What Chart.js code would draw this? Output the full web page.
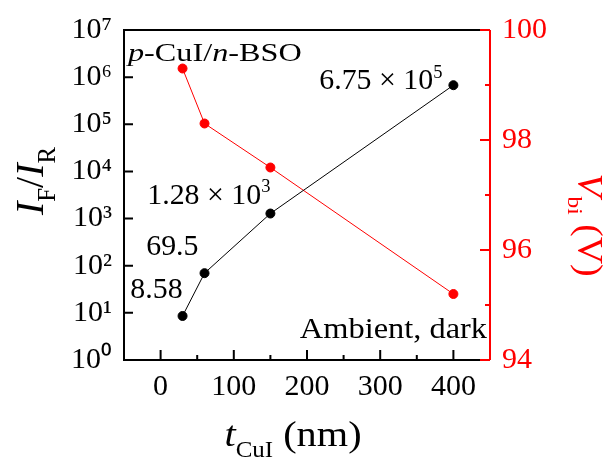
<!DOCTYPE html>
<html>
<head>
<meta charset="utf-8">
<script src="https://cdn.jsdelivr.net/npm/chart.js@4.4.1/dist/chart.umd.min.js"></script>
<style>
  html, body { margin: 0; padding: 0; background: #fff; }
</style>
</head>
<body>
<canvas id="chart" width="606" height="462"></canvas>
<script>
/* data */
const thickness = [30, 60, 150, 400];           // t_CuI (nm)
const ratio = [8.58, 69.5, 1280, 675000];       // I_F / I_R
const vbi = [99.3, 98.3, 97.5, 95.2];           // V_bi (V)
const ratioText = [['8.58', ''], ['69.5', ''], ['1.28 × 10', '3'], ['6.75 × 10', '5']];

const xTicks = [0, 100, 200, 300, 400];
const xMinor = [50, 150, 250, 350];
const yTicks = [1, 10, 100, 1e3, 1e4, 1e5, 1e6, 1e7];
const y2Ticks = [94, 96, 98, 100];
const y2Minor = [95, 97, 99];

const FONT = '"Liberation Serif", "Times New Roman", serif';
const RED = '#ff0000';
const SUP = '⁰¹²³⁴⁵⁶⁷⁸⁹';

function sup(n) {
  return String(n).split('').map(d => SUP[+d]).join('');
}

// draw a run of mixed italic / sub / sup text
function rich(ctx, runs, x, y, o) {
  const size = o.size, sx = o.sx || 1;
  ctx.save();
  ctx.translate(x, y);
  ctx.rotate(o.rot || 0);
  ctx.scale(sx, 1);
  ctx.fillStyle = o.color || '#000';
  ctx.textBaseline = 'alphabetic';
  ctx.textAlign = 'left';
  const parts = runs.map(r => {
    const sz = (r.sub || r.sup) ? size * 0.62 : size;
    const f = (r.it ? 'italic ' : '') + sz + 'px ' + FONT;
    ctx.font = f;
    return { r, f, w: ctx.measureText(r.t).width };
  });
  const total = parts.reduce((a, p) => a + p.w, 0);
  let cx = o.align === 'right' ? -total : o.align === 'center' ? -total / 2 : 0;
  parts.forEach(p => {
    ctx.font = p.f;
    const dy = p.r.sub ? size * 0.3 : p.r.sup ? -size * 0.4 : 0;
    ctx.fillText(p.r.t, cx, dy);
    cx += p.w;
  });
  ctx.restore();
}

const frame = {
  id: 'frame',
  beforeDatasetsDraw(chart) {
    const ctx = chart.ctx, a = chart.chartArea, s = chart.scales;
    ctx.save();
    ctx.lineWidth = 2;
    ctx.strokeStyle = '#000';
    ctx.beginPath();
    ctx.moveTo(a.right, a.top); ctx.lineTo(a.left, a.top);
    ctx.lineTo(a.left, a.bottom); ctx.lineTo(a.right, a.bottom);
    ctx.stroke();
    // inward ticks
    ctx.beginPath();
    xTicks.forEach(v => { const p = s.x.getPixelForValue(v); ctx.moveTo(p, a.bottom); ctx.lineTo(p, a.bottom - 10); });
    xMinor.forEach(v => { const p = s.x.getPixelForValue(v); ctx.moveTo(p, a.bottom); ctx.lineTo(p, a.bottom - 5); });
    yTicks.forEach(v => { const p = s.y.getPixelForValue(v); ctx.moveTo(a.left, p); ctx.lineTo(a.left + 9, p); });
    ctx.stroke();
    // right axis
    ctx.strokeStyle = RED;
    ctx.beginPath();
    ctx.moveTo(a.right, a.top); ctx.lineTo(a.right, a.bottom);
    y2Ticks.forEach(v => { const p = s.y2.getPixelForValue(v); ctx.moveTo(a.right, p); ctx.lineTo(a.right - 10, p); });
    y2Minor.forEach(v => { const p = s.y2.getPixelForValue(v); ctx.moveTo(a.right, p); ctx.lineTo(a.right - 5, p); });
    ctx.stroke();
    ctx.restore();
  },
  afterDraw(chart) {
    const ctx = chart.ctx, a = chart.chartArea, s = chart.scales;
    // axis titles
    rich(ctx, [{ t: 'I', it: true }, { t: 'F', sub: true }, { t: '/' }, { t: 'I', it: true }, { t: 'R', sub: true }],
      43, (a.top + a.bottom) / 2 - 14, { size: 40, rot: -Math.PI / 2, align: 'center' });
    rich(ctx, [{ t: 't', it: true }, { t: 'CuI', sub: true }, { t: ' (nm)' }],
      (a.left + a.right) / 2 - 14, 446, { size: 36, sx: 1.12, align: 'center' });
    rich(ctx, [{ t: 'V', it: true }, { t: 'bi', sub: true }, { t: ' (V)' }],
      578, (a.top + a.bottom) / 2 + 30, { size: 35, sx: 1.08, rot: Math.PI / 2, align: 'center', color: RED });

    // annotations
    rich(ctx, [{ t: 'p', it: true }, { t: '-CuI/' }, { t: 'n', it: true }, { t: '-BSO' }],
      a.left + 4, a.top + 31, { size: 26, sx: 1.24 });
    rich(ctx, [{ t: 'Ambient, dark' }], a.right - 3, a.bottom - 22, { size: 30, sx: 1.08, align: 'right' });
    const off = [[0, -18], [-6, -18], [0, -10], [-11, 4]];
    thickness.forEach((t, i) => {
      const px = s.x.getPixelForValue(t), py = s.y.getPixelForValue(ratio[i]);
      const runs = [{ t: ratioText[i][0] }];
      if (ratioText[i][1]) runs.push({ t: ratioText[i][1], sup: true });
      rich(ctx, runs, px + off[i][0], py + off[i][1], { size: 29, sx: 1.03, align: 'right' });
    });
  }
};

const tickFont = { family: FONT, size: 30 };

new Chart(document.getElementById('chart'), {
  type: 'scatter',
  data: {
    datasets: [{
      data: thickness.map((x, i) => ({ x, y: ratio[i] })),
      yAxisID: 'y',
      showLine: true,
      borderColor: '#000',
      backgroundColor: '#000',
      borderWidth: 1,
      pointRadius: 4.5,
      pointHoverRadius: 4.5
    }, {
      data: thickness.map((x, i) => ({ x, y: vbi[i] })),
      yAxisID: 'y2',
      showLine: true,
      borderColor: RED,
      backgroundColor: RED,
      borderWidth: 1,
      pointRadius: 4.5,
      pointHoverRadius: 4.5
    }]
  },
  options: {
    responsive: false,
    animation: false,
    devicePixelRatio: 1,
    layout: { padding: { top: 26 } },
    plugins: { legend: { display: false }, tooltip: { enabled: false } },
    scales: {
      x: {
        type: 'linear', min: -50, max: 450,
        afterBuildTicks: s => { s.ticks = xTicks.map(v => ({ value: v })); },
        afterFit: s => { s.height = 102; },
        ticks: { font: tickFont, color: '#000', padding: 9, maxRotation: 0 },
        grid: { display: false, drawTicks: false },
        border: { display: false }
      },
      y: {
        type: 'logarithmic', position: 'left', min: 1, max: 1e7,
        afterBuildTicks: s => { s.ticks = yTicks.map(v => ({ value: v })); },
        afterFit: s => { s.width = 124; },
        ticks: { font: tickFont, color: '#000', padding: 12, callback: v => '10' + sup(Math.round(Math.log10(v))) },
        grid: { display: false, drawTicks: false },
        border: { display: false }
      },
      y2: {
        type: 'linear', position: 'right', min: 94, max: 100,
        afterBuildTicks: s => { s.ticks = y2Ticks.map(v => ({ value: v })); },
        afterFit: s => { s.width = 116; },
        ticks: { font: tickFont, color: RED, padding: 12 },
        grid: { display: false, drawTicks: false },
        border: { display: false }
      }
    }
  },
  plugins: [frame]
});
</script>
</body>
</html>
